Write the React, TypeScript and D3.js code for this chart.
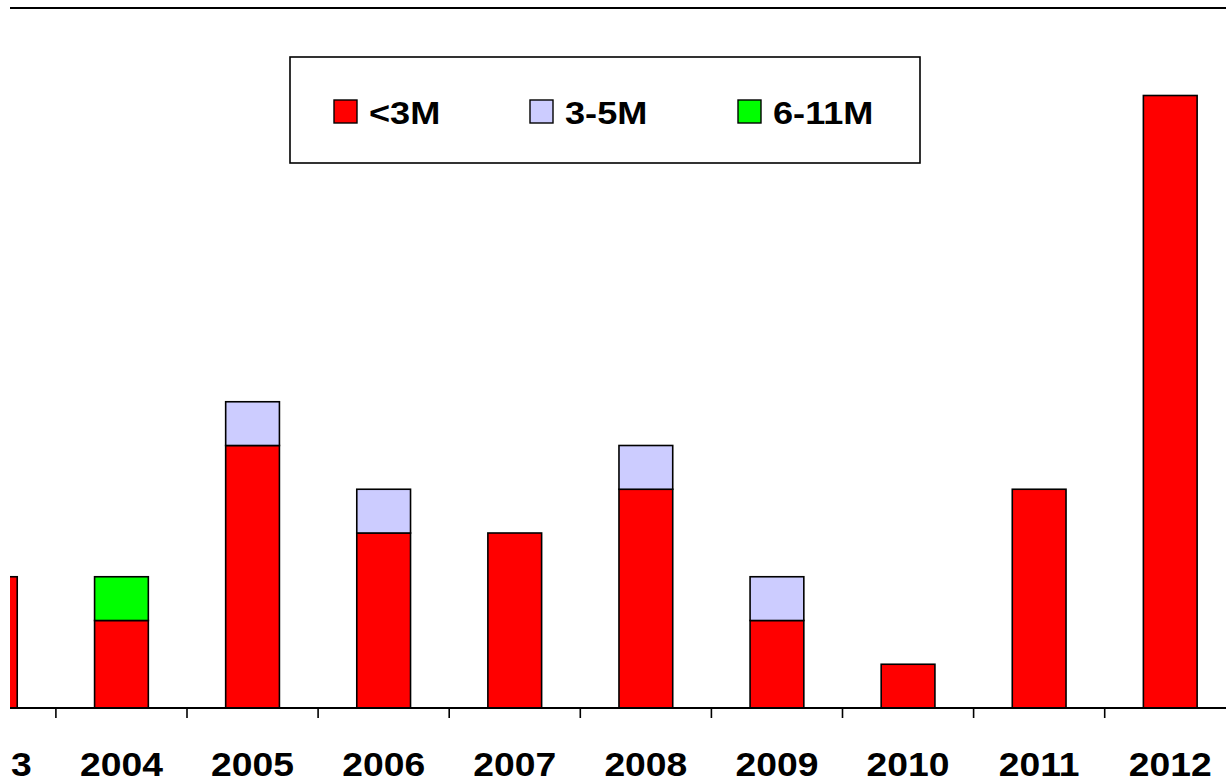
import { useMemo } from "react";
import * as d3 from "d3";

const WIDTH = 1226;
const HEIGHT = 779;

const years = ["2003", "2004", "2005", "2006", "2007", "2008", "2009", "2010", "2011", "2012"];
const under3M = [3, 2, 6, 4, 4, 5, 2, 1, 5, 14];
const from3to5M = [0, 0, 1, 1, 0, 1, 1, 0, 0, 0];
const from6to11M = [0, 1, 0, 0, 0, 0, 0, 0, 0, 0];

const seriesKeys = ["<3M", "3-5M", "6-11M"];
const seriesColors = ["#ff0000", "#ccccff", "#00ff00"];

const FONT = "'Liberation Sans', Arial, sans-serif";
const STRETCH = 1.13;

const App = () => {
  const rows = years.map((year, i) => ({
    year,
    "<3M": under3M[i],
    "3-5M": from3to5M[i],
    "6-11M": from6to11M[i],
  }));

  const series = d3.stack<any>().keys(seriesKeys)(rows);

  // plot is cropped: the 2003 slot starts left of the visible area
  const xScale = useMemo(
    () =>
      d3
        .scaleBand()
        .domain(years)
        .range([-75.2, 1235.8])
        .paddingInner(0.59)
        .paddingOuter(0.295),
    []
  );
  const yScale = useMemo(
    () => d3.scaleLinear().domain([0, 16]).range([708, 8]),
    []
  );

  const colorScale = d3.scaleOrdinal<string>().domain(seriesKeys).range(seriesColors);

  const plotLeft = 10;
  const baseY = yScale(0);
  const step = xScale.step();
  const rangeStart = xScale.range()[0];

  const bars = series.map((serie) =>
    serie.map((d, i) => {
      if (d[1] - d[0] <= 0) return null;
      return (
        <rect
          key={serie.key + i}
          x={xScale(d.data.year)}
          y={yScale(d[1])}
          width={xScale.bandwidth()}
          height={yScale(d[0]) - yScale(d[1])}
          fill={colorScale(serie.key)}
          stroke="#000"
          strokeWidth={1.6}
        />
      );
    })
  );

  const ticks = d3.range(1, years.length).map((k) => {
    const x = rangeStart + k * step;
    return <line key={k} x1={x} x2={x} y1={baseY} y2={baseY + 10} stroke="#000" strokeWidth={1.6} />;
  });

  const labels = years.map((year) => {
    const x = (xScale(year) || 0) + xScale.bandwidth() / 2;
    return (
      <text
        key={year}
        transform={`translate(${x},776) scale(${STRETCH},1)`}
        textAnchor="middle"
        fontSize={33}
        fontWeight="bold"
        fontFamily={FONT}
        fill="#000"
      >
        {year}
      </text>
    );
  });

  const legendX = [334, 530, 738];

  return (
    <svg
      width={WIDTH}
      height={HEIGHT}
      style={{ position: "absolute", left: 0, top: 0, background: "#fff" }}
    >
      <defs>
        <clipPath id="plot-clip">
          <rect x={plotLeft} y={0} width={WIDTH - plotLeft} height={HEIGHT} />
        </clipPath>
      </defs>
      <line x1={plotLeft} x2={WIDTH} y1={8} y2={8} stroke="#000" strokeWidth={2} />
      <g clipPath="url(#plot-clip)">
        {bars}
        {labels}
      </g>
      <line x1={plotLeft} x2={WIDTH} y1={baseY} y2={baseY} stroke="#000" strokeWidth={2} />
      {ticks}
      <g>
        <rect x={290} y={57} width={630} height={106} fill="#fff" stroke="#000" strokeWidth={1.6} />
        {seriesKeys.map((key, i) => (
          <g key={key}>
            <rect
              x={legendX[i]}
              y={100}
              width={23}
              height={23}
              fill={colorScale(key)}
              stroke="#000"
              strokeWidth={1.4}
            />
            <text
              transform={`translate(${legendX[i] + 35},123.5) scale(${STRETCH},1)`}
              fontSize={32}
              fontWeight="bold"
              fontFamily={FONT}
              fill="#000"
            >
              {key}
            </text>
          </g>
        ))}
      </g>
    </svg>
  );
};

export default App;
